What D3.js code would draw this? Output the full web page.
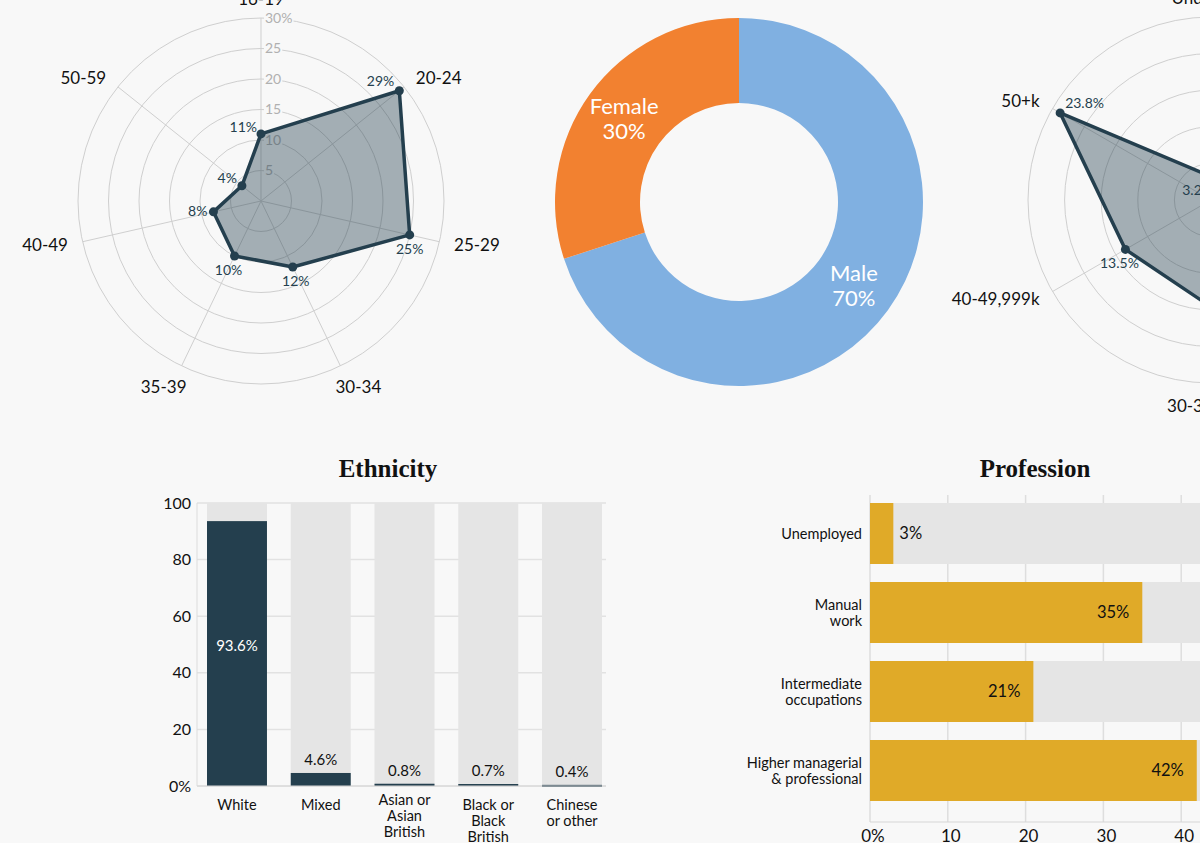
<!DOCTYPE html>
<html>
<head>
<meta charset="utf-8">
<script src="https://cdn.jsdelivr.net/npm/d3@7"></script>
<style>
  body { margin: 0; background: #f8f8f8; overflow: hidden; }
  svg { display: block; }
  text { font-family: Lato, "Open Sans", sans-serif; }
  .title { font-family: "Liberation Serif", "DejaVu Serif", serif; font-weight: bold; }
</style>
</head>
<body>
<div id="chart"></div>
<script>
// ---- data ----
const ageCats = ["16-19", "20-24", "25-29", "30-34", "35-39", "40-49", "50-59"]
const ageValues = [11, 29, 25, 12, 10, 8, 4]
const ageTicks = [5, 10, 15, 20, 25, 30]

const incomeCats = ["Under 10k", "10-19,999k", "20-29,999k", "30-39,999k", "40-49,999k", "50+k"]
const incomeValues = [3.2, 21.5, 23.4, 14.6, 13.5, 23.8]
const incomeTicks = [5, 10, 15, 20, 25]

const genderCats = ["Male", "Female"]
const genderValues = [70, 30]

const ethnicCats = ["White", "Mixed", "Asian or\nAsian\nBritish", "Black or\nBlack\nBritish", "Chinese\nor other"]
const ethnicValues = [93.6, 4.6, 0.8, 0.7, 0.4]
const ethnicTicks = [0, 20, 40, 60, 80, 100]

const profCats = ["Unemployed", "Manual\nwork", "Intermediate\noccupations", "Higher managerial\n& professional"]
const profValues = [3, 35, 21, 42]
const profTicks = [0, 10, 20, 30, 40, 50]

const config = {
    width: 1200,
    height: 843,
    dark: "#243f4e",
    grid: "#cfcfcf",
    barBg: "#e5e5e5"
}

const svg = d3.select('#chart')
    .append("svg")
    .attr("width", config.width)
    .attr("height", config.height)

// ---- radar helper ----
function radar(cx, cy, radius, cats, values, ticks, maxVal, fmt, labelPos, showTicks) {
    const g = svg.append("g").attr("transform", `translate(${cx},${cy})`)
    const r = d3.scaleLinear().domain([0, maxVal]).range([0, radius])
    const ang = d3.scaleLinear().domain([0, cats.length]).range([0, 2 * Math.PI])
    const px = (i, v) => r(v) * Math.sin(ang(i))
    const py = (i, v) => -r(v) * Math.cos(ang(i))

    g.selectAll("circle.ring").data(ticks).enter().append("circle")
        .attr("r", d => r(d)).attr("fill", "none")
        .attr("stroke", config.grid).attr("stroke-width", 1)

    g.selectAll("line.spoke").data(cats).enter().append("line")
        .attr("x1", 0).attr("y1", 0)
        .attr("x2", (d, i) => px(i, maxVal)).attr("y2", (d, i) => py(i, maxVal))
        .attr("stroke", config.grid).attr("stroke-width", 1)

    if (showTicks) {
        g.selectAll("text.tick").data(ticks).enter().append("text")
            .attr("x", 4).attr("y", d => -r(d)).attr("dy", "0.35em")
            .attr("font-size", 14).attr("fill", "#b0b0b0")
            .text(d => d === maxVal ? d + "%" : d)
            .each(function () {
                // background knock-out behind tick numbers
                const bb = this.getBBox()
                d3.select(this.parentNode).insert("rect", () => this)
                    .attr("x", bb.x - 1).attr("y", bb.y).attr("width", bb.width + 2).attr("height", bb.height)
                    .attr("fill", "#f8f8f8")
            })
    }

    const line = d3.lineRadial().angle((d, i) => ang(i)).radius(d => r(d)).curve(d3.curveLinearClosed)
    g.append("path").datum(values)
        .attr("d", line)
        .attr("fill", "rgba(36,63,78,0.4)")
        .attr("stroke", config.dark).attr("stroke-width", 3.5)
        .attr("stroke-linejoin", "round")

    g.selectAll("circle.dot").data(values).enter().append("circle")
        .attr("cx", (d, i) => px(i, d)).attr("cy", (d, i) => py(i, d))
        .attr("r", 4.5).attr("fill", config.dark)

    g.selectAll("text.val").data(values).enter().append("text")
        .attr("x", (d, i) => px(i, d) + labelPos[i][0])
        .attr("y", (d, i) => py(i, d) + labelPos[i][1])
        .attr("text-anchor", (d, i) => labelPos[i][2])
        .attr("font-size", 14).attr("fill", config.dark)
        .text(d => fmt(d))

    // category labels: sides sit closer, top/bottom a bit further out
    const side = i => Math.abs(Math.sin(ang(i))) >= 0.5
    const outR = i => side(i) ? radius + 15 : (Math.cos(ang(i)) > 0 ? radius + 19 : radius + 23)
    g.selectAll("text.cat").data(cats).enter().append("text")
        .attr("x", (d, i) => {
            const s = Math.sin(ang(i))
            const push = Math.abs(s) > 0.01 ? Math.sign(s) * 8 : 0
            return side(i) ? outR(i) * s : outR(i) * s + push
        })
        .attr("y", (d, i) => -outR(i) * Math.cos(ang(i)))
        .attr("dy", "0.35em")
        .attr("text-anchor", (d, i) => {
            const s = Math.sin(ang(i))
            return !side(i) ? "middle" : (s > 0 ? "start" : "end")
        })
        .attr("font-size", 17).attr("fill", "#111")
        .text(d => d)
}

radar(261, 201, 183, ageCats, ageValues, ageTicks, 30, d => d + "%",
    [[-4, -2, "end"], [-5, -5, "end"], [0, 19, "middle"], [3, 19, "middle"],
     [-6, 19, "middle"], [-6, 4, "end"], [-5, -3, "end"]], true)

radar(1211, 200, 183, incomeCats, incomeValues, incomeTicks, 25, d => d + "%",
    [[2, 18, "end"], [6, -6, "start"], [6, 14, "start"], [8, 5, "start"],
     [-6, 19, "middle"], [5, -5, "start"], [5, -5, "start"]], false)

// ---- donut ----
const pie = d3.pie().sort(null).value(d => d)
const arc = d3.arc().innerRadius(99).outerRadius(184)
const donut = svg.append("g").attr("transform", "translate(739,202)")
const genderColor = d3.scaleOrdinal().domain(genderCats).range(["#80b0e1", "#f28130"])
const arcs = pie(genderValues)
donut.selectAll("path").data(arcs).enter().append("path")
    .attr("d", arc).attr("fill", (d, i) => genderColor(genderCats[i]))
const labelArc = d3.arc().innerRadius(142).outerRadius(142)
donut.selectAll("text").data(arcs).enter().append("text")
    .attr("transform", d => {
        const c = labelArc.centroid(d)
        return `translate(${c[0]},${c[1]})`
    })
    .attr("text-anchor", "middle").attr("fill", "#fff").attr("font-size", 22)
    .each(function (d, i) {
        const t = d3.select(this)
        t.append("tspan").attr("x", 0).attr("dy", "-0.2em").text(genderCats[i])
        t.append("tspan").attr("x", 0).attr("dy", "1.15em").text(genderValues[i] + "%")
    })

// ---- ethnicity bars ----
const eth = svg.append("g")
eth.append("text").attr("class", "title").attr("x", 388).attr("y", 477)
    .attr("text-anchor", "middle").attr("font-size", 25).attr("fill", "#111").text("Ethnicity")

const ey = d3.scaleLinear().domain([0, 100]).range([786, 503])
const ex = d3.scaleBand().domain(ethnicCats).range([207, 602]).paddingInner(0.284)

eth.selectAll("line.grid").data(ethnicTicks).enter().append("line")
    .attr("x1", 197).attr("x2", 606).attr("y1", d => ey(d)).attr("y2", d => ey(d))
    .attr("stroke", "#e2e2e2").attr("stroke-width", 1.5)
eth.append("line").attr("x1", 197).attr("x2", 197).attr("y1", ey(100)).attr("y2", ey(0))
    .attr("stroke", "#dcdcdc")

eth.selectAll("rect.bg").data(ethnicCats).enter().append("rect")
    .attr("x", d => ex(d)).attr("width", ex.bandwidth())
    .attr("y", ey(100)).attr("height", ey(0) - ey(100)).attr("fill", config.barBg)
eth.selectAll("rect.bar").data(ethnicValues).enter().append("rect")
    .attr("x", (d, i) => ex(ethnicCats[i])).attr("width", ex.bandwidth())
    .attr("y", d => ey(d)).attr("height", d => Math.max(ey(0) - ey(d), 2)).attr("fill", config.dark)
eth.append("line").attr("x1", 197).attr("x2", 606).attr("y1", ey(0)).attr("y2", ey(0))
    .attr("stroke", "#d6d6d6")

eth.selectAll("text.yt").data(ethnicTicks).enter().append("text")
    .attr("x", 191).attr("y", d => ey(d)).attr("dy", "0.35em")
    .attr("text-anchor", "end").attr("font-size", 16).attr("fill", "#111")
    .text(d => d === 0 ? "0%" : d)

eth.selectAll("text.val").data(ethnicValues).enter().append("text")
    .attr("x", (d, i) => ex(ethnicCats[i]) + ex.bandwidth() / 2)
    .attr("y", d => d > 50 ? ey(d / 2) - 8 : ey(d) - 8)
    .attr("dy", d => d > 50 ? "0.35em" : 0)
    .attr("text-anchor", "middle").attr("font-size", 15)
    .attr("fill", d => d > 50 ? "#fff" : "#111")
    .text(d => d + "%")

eth.selectAll("text.xl").data(ethnicCats).enter().append("text")
    .attr("text-anchor", "middle").attr("font-size", 14.5).attr("fill", "#111")
    .attr("transform", d => `translate(${ex(d) + ex.bandwidth() / 2},810)`)
    .each(function (d) {
        const lines = d.split("\n")
        const t = d3.select(this)
        lines.forEach((l, k) => t.append("tspan").attr("x", 0).attr("y", (lines.length === 3 && d.startsWith("Asian") ? -5 : 0) + k * 16).text(l))
    })

// ---- profession bars ----
const prof = svg.append("g")
prof.append("text").attr("class", "title").attr("x", 1035).attr("y", 477)
    .attr("text-anchor", "middle").attr("font-size", 25).attr("fill", "#111").text("Profession")

const px = d3.scaleLinear().domain([0, 50]).range([870, 1259])
const py = d3.scaleBand().domain(profCats).range([503, 801]).paddingInner(0.228)

prof.selectAll("line.grid").data(profTicks).enter().append("line")
    .attr("x1", d => px(d)).attr("x2", d => px(d)).attr("y1", 495).attr("y2", 822)
    .attr("stroke", "#dedede").attr("stroke-width", 1.5)
prof.append("line").attr("x1", 870).attr("x2", 1260).attr("y1", 822).attr("y2", 822)
    .attr("stroke", "#d6d6d6")

prof.selectAll("rect.bg").data(profCats).enter().append("rect")
    .attr("x", px(0)).attr("width", px(50) - px(0))
    .attr("y", d => py(d)).attr("height", py.bandwidth()).attr("fill", config.barBg)
prof.selectAll("rect.bar").data(profValues).enter().append("rect")
    .attr("x", px(0)).attr("width", d => px(d) - px(0))
    .attr("y", (d, i) => py(profCats[i])).attr("height", py.bandwidth()).attr("fill", "#e0aa28")

prof.selectAll("text.val").data(profValues).enter().append("text")
    .attr("x", d => d < 10 ? px(d) + 6 : px(d) - 13)
    .attr("y", (d, i) => py(profCats[i]) + py.bandwidth() / 2).attr("dy", "0.35em")
    .attr("text-anchor", d => d < 10 ? "start" : "end")
    .attr("font-size", 16.5).attr("fill", "#111")
    .text(d => d + "%")

prof.selectAll("text.yl").data(profCats).enter().append("text")
    .attr("text-anchor", "end").attr("font-size", 14.5).attr("fill", "#111")
    .attr("transform", d => `translate(862,${py(d) + py.bandwidth() / 2})`)
    .each(function (d) {
        const lines = d.split("\n")
        const t = d3.select(this)
        lines.forEach((l, k) => t.append("tspan").attr("x", 0)
            .attr("y", (k - (lines.length - 1) / 2) * 16).attr("dy", "0.35em").text(l))
    })

prof.selectAll("text.xt").data(profTicks).enter().append("text")
    .attr("x", d => px(d) + 3).attr("y", 842)
    .attr("text-anchor", "middle").attr("font-size", 17).attr("fill", "#111")
    .text(d => d === 0 ? "0%" : d)
</script>
</body>
</html>
